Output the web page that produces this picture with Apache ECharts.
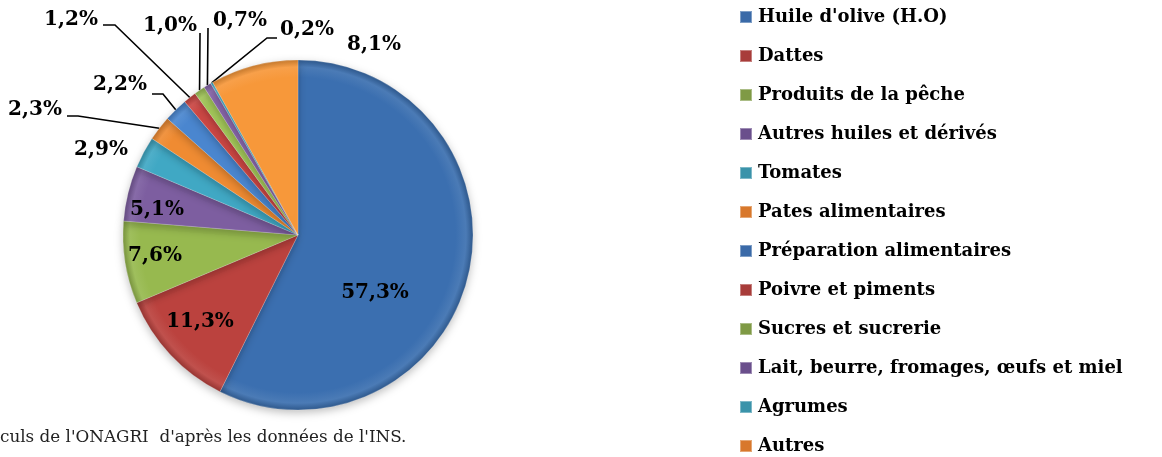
<!DOCTYPE html>
<html>
<head>
<meta charset="utf-8">
<script src="https://cdn.jsdelivr.net/npm/echarts@6/dist/echarts.min.js"></script>
<style>
  html, body { margin: 0; padding: 0; background: #fff; }
  #chart { width: 1162px; height: 457px; }
</style>
</head>
<body>
<div id="chart"></div>
<script>
// parts of exports, %
const categories = [
  "Huile d'olive (H.O)", 'Dattes', 'Produits de la pêche', 'Autres huiles et dérivés',
  'Tomates', 'Pates alimentaires', 'Préparation alimentaires', 'Poivre et piments',
  'Sucres et sucrerie', 'Lait, beurre, fromages, œufs et miel', 'Agrumes', 'Autres'
];
const shares = [57.3, 11.3, 7.6, 5.1, 2.9, 2.3, 2.2, 1.2, 1.0, 0.7, 0.2, 8.1];

// excel-like palette, second round a bit lighter
const baseColors = ['#3b6fb0', '#bb423e', '#97b94f', '#7d5ea0', '#40a8c4', '#ef8b32',
                    '#4a86cf', '#cc4744', '#a3c75a', '#8a68ad', '#4db8d4', '#f7983a'];
const legendColors = ['#3a6aa8', '#a83c3a', '#7f9a45', '#6a4f8c', '#3a93aa', '#d8782c',
                      '#3a6aa8', '#a83c3a', '#7f9a45', '#6a4f8c', '#3a93aa', '#d8782c'];

// where each label sits, and the bend/end of its leader line (no line = none)
const labelSpots = [
  { x: 375, y: 293 },
  { x: 200, y: 322 },
  { x: 155, y: 256 },
  { x: 157, y: 210 },
  { x: 101, y: 150 },
  { x: 35, y: 110, line: [[78, 116], [67, 116]] },
  { x: 120, y: 85, line: [[163, 94], [152, 94]] },
  { x: 71, y: 20, line: [[115, 25], [103, 25]] },
  { x: 170, y: 26, line: [[200, 34], [200, 33]] },
  { x: 240, y: 21, line: [[208, 29], [208, 28]] },
  { x: 307, y: 30, line: [[267, 38], [277, 38]] },
  { x: 374, y: 45 }
];

const cx = 298, cy = 235, R = 175;

function shade(hex, f) {
  const n = parseInt(hex.slice(1), 16);
  let r = (n >> 16) & 255, g = (n >> 8) & 255, b = n & 255;
  const m = c => Math.max(0, Math.min(255, Math.round(f > 0 ? c + (255 - c) * f : c * (1 + f))));
  return 'rgb(' + m(r) + ',' + m(g) + ',' + m(b) + ')';
}

const chart = echarts.init(document.getElementById('chart'));

const pieData = categories.map((name, i) => ({
  name: name,
  value: shares[i],
  labelLine: { show: !!labelSpots[i].line },
  itemStyle: {
    color: {
      type: 'radial', x: cx, y: cy, r: R, global: true,
      colorStops: [
        { offset: 0, color: baseColors[i] },
        { offset: 0.9, color: baseColors[i] },
        { offset: 0.96, color: shade(baseColors[i], 0.08) },
        { offset: 1, color: shade(baseColors[i], -0.2) }
      ]
    }
  }
}));

chart.setOption({
  animation: false,
  legend: {
    orient: 'vertical',
    left: 739,
    top: 8,
    height: 449,
    padding: 0,
    itemGap: 21,
    itemWidth: 12,
    itemHeight: 12,
    icon: 'rect',
    selectedMode: false,
    textStyle: {
      fontFamily: 'DejaVu Serif',
      fontWeight: 'bold',
      fontSize: 18,
      lineHeight: 17,
      color: '#000',
      padding: [0, 0, 0, 1]
    },
    data: categories.map((name, i) => ({ name: name, itemStyle: { color: legendColors[i] } }))
  },
  graphic: [{
    type: 'text',
    left: 0,
    top: 429,
    style: {
      text: "culs de l'ONAGRI  d'après les données de l'INS.",
      font: '16.8px "DejaVu Serif"',
      fill: '#222'
    }
  }],
  series: [{
    type: 'pie',
    center: [cx, cy],
    radius: R,
    startAngle: 90,
    clockwise: true,
    avoidLabelOverlap: false,
    itemStyle: {
      borderColor: 'rgba(255,255,255,0.35)',
      borderWidth: 0.6,
      shadowBlur: 8,
      shadowColor: 'rgba(0,0,0,0.25)',
      shadowOffsetY: 3
    },
    label: {
      show: true,
      position: 'outside',
      fontFamily: 'DejaVu Serif',
      fontWeight: 'bold',
      fontSize: 20,
      color: '#000',
      formatter: p => p.value.toFixed(1).replace('.', ',') + '%'
    },
    labelLine: {
      show: true,
      length: 10,
      length2: 10,
      lineStyle: { color: '#000', width: 1.6 }
    },
    labelLayout: function (params) {
      const spot = labelSpots[params.dataIndex];
      const out = { x: spot.x, y: spot.y, align: 'center', verticalAlign: 'middle' };
      if (spot.line && params.labelLinePoints) {
        out.labelLinePoints = [params.labelLinePoints[0]].concat(spot.line);
      }
      return out;
    },
    emphasis: { disabled: true },
    data: pieData
  }]
});
</script>
</body>
</html>
